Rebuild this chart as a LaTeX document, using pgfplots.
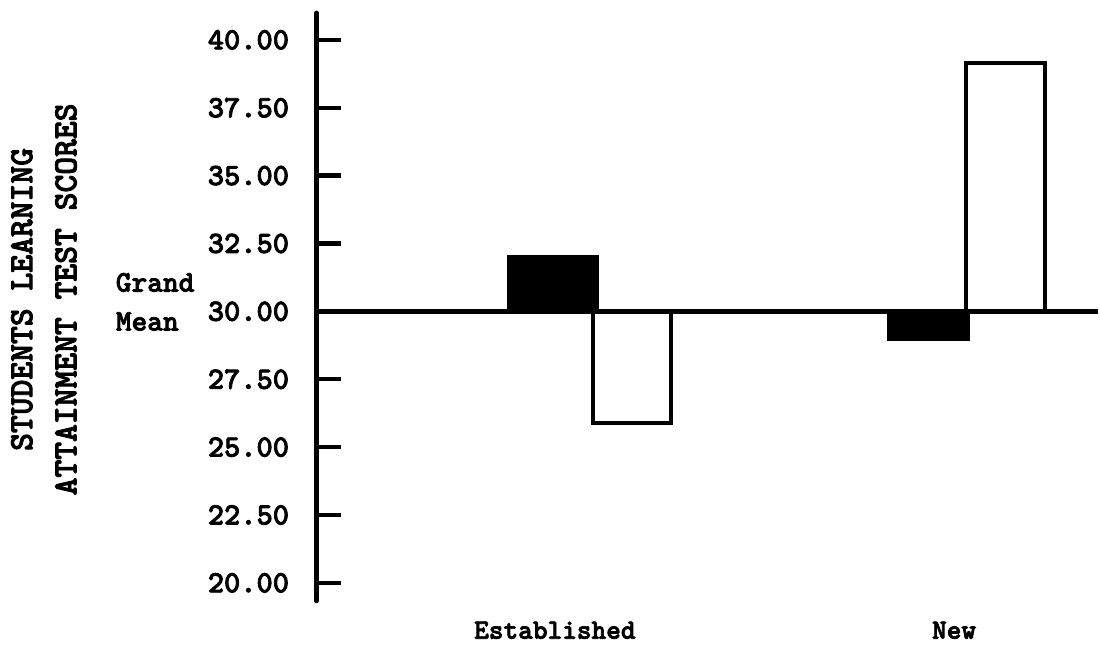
\documentclass[border=0pt]{standalone}
\usepackage{fontspec}
\usepackage{pgfplots}
\pgfplotsset{compat=1.18}
\newfontfamily\twfam{lmmonolt10-bold.otf}[FakeBold=2.5]
\newcommand{\tw}[1]{\twfam\fontsize{#1}{1.3\dimexpr#1pt\relax}\selectfont}
\begin{document}
\begin{tikzpicture}
\begin{axis}[
    scale only axis,
    width=391.5pt, height=294.5pt,
    xmin=317, xmax=1100,
    ymin=19.34, ymax=40.99,
    axis x line=none,
    axis y line*=left,
    axis line style={line width=2.4pt, line cap=round},
    ytick={20,22.5,...,40},
    /pgf/number format/assume math mode=true,
    yticklabel={\pgfmathprintnumber[fixed, fixed zerofill, precision=2]{\tick}},
    tick align=inside,
    major tick length=12.5pt,
    tick style={line width=2.2pt, black},
    yticklabel style={font=\tw{15.5}, inner sep=0pt, anchor=east, xshift=-13.5pt},
    clip=false,
]
% Established
\addplot[fill=black, draw=black, line width=2pt] coordinates {(510,30) (510,32.0) (598,32.0) (598,30)} -- cycle;
\addplot[fill=white, draw=black, line width=2pt] coordinates {(594,30) (594,25.9) (672,25.9) (672,30)} -- cycle;
% New
\addplot[fill=black, draw=black, line width=2pt] coordinates {(891,30) (891,29.0) (970,29.0) (970,30)} -- cycle;
\addplot[fill=white, draw=black, line width=2pt] coordinates {(968,30) (968,39.15) (1047,39.15) (1047,30)} -- cycle;
% grand mean line
\addplot[black, line width=2.2pt] coordinates {(317,30) (1100,30)};

\node[anchor=west, align=left, font=\tw{15}] at ([xshift=-104pt]axis cs:317,30.35) {Grand\\Mean};
\node[rotate=90, align=center, font=\tw{17}] at ([xshift=-136.5pt]axis cs:317,30.44)
    {STUDENTS LEARNING\\ATTAINMENT TEST SCORES};
\node[anchor=base, font=\tw{14}] at ([yshift=-19pt]axis cs:556,19.34) {Established};
\node[anchor=base, font=\tw{14}] at ([yshift=-19pt]axis cs:956,19.34) {New};
\end{axis}
\path ([shift={(-158.5pt,-23pt)}]current axis.south west) rectangle ([shift={(0pt,6.5pt)}]current axis.north east);
\end{tikzpicture}
\end{document}
